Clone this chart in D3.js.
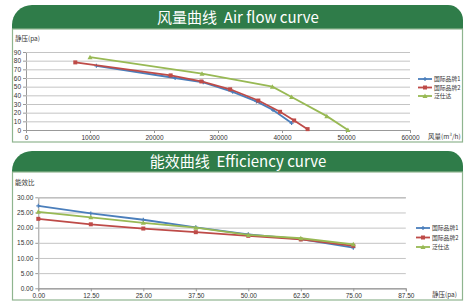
<!DOCTYPE html>
<html>
<head>
<meta charset="utf-8">
<script src="https://cdn.jsdelivr.net/npm/d3@7"></script>
<style>
  body { margin: 0; background: #fff; }
  svg { display: block; font-family: "Liberation Sans", "Noto Sans CJK SC", sans-serif; }
  .tick text { font-size: 6.5px; fill: #333; }
  .cn { font-family: "Noto Sans CJK SC", sans-serif; }
  .title { white-space: pre; }
</style>
</head>
<body>
<svg width="465" height="302"></svg>
<script>
// chart 1: air flow
const seriesNames = ['国际品牌1', '国际品牌2', '泛仕达'];
const colors = ['#4a7ebb', '#be4b48', '#98b954'];
const flowBrand1 = [[11000, 74], [23300, 60], [27700, 55], [32300, 44], [36000, 33], [38600, 23], [41500, 8]];
const flowBrand2 = [[7700, 78], [22600, 63], [27400, 56], [31900, 47], [36300, 34], [39700, 21], [41900, 11], [44000, 1]];
const flowFantech = [[10000, 84], [27500, 65], [38500, 50], [41500, 38], [47000, 16], [50300, 0]];
const flowXTicks = [0, 10000, 20000, 30000, 40000, 50000, 60000];
const flowYTicks = [0, 10, 20, 30, 40, 50, 60, 70, 80, 90];

// chart 2: efficiency
const effX = [0, 12.5, 25, 37.5, 50, 62.5, 75];
const effBrand1 = [27.2, 24.7, 22.6, 20.1, 17.8, 16.2, 13.4];
const effBrand2 = [22.9, 21.1, 19.7, 18.5, 17.3, 16.1, 14.0];
const effFantech = [25.2, 23.4, 21.6, 20.0, 17.6, 16.5, 14.5];
const effXTicks = [0, 12.5, 25, 37.5, 50, 62.5, 75, 87.5];
const effYTicks = [0, 5, 10, 15, 20, 25, 30];

const svg = d3.select('svg');
const headGreen = '#2f7c49';
const borderGreen = '#8fb58f';
const gridColor = '#c4c4c4';

function header(y0, y1, title) {
  const x0 = 12, x1 = 463, rl = 20, rr = 15;
  const p = d3.path();
  p.moveTo(x0, y1);
  p.lineTo(x0, y0 + rl);
  p.arcTo(x0, y0, x0 + rl, y0, rl);
  p.lineTo(x1 - rr, y0);
  p.arcTo(x1, y0, x1, y0 + rr, rr);
  p.lineTo(x1, y1);
  p.closePath();
  svg.append('path').attr('d', p.toString()).attr('fill', headGreen);
  svg.append('text')
    .attr('class', 'cn title')
    .attr('x', 238).attr('y', (y0 + y1) / 2 + 5.5)
    .attr('text-anchor', 'middle')
    .attr('fill', '#fff')
    .style('font-size', '15px')
    .text(title);
}

function panel(y0, y1) {
  svg.append('rect')
    .attr('x', 12.5).attr('y', y0)
    .attr('width', 450).attr('height', y1 - y0)
    .attr('fill', 'none')
    .attr('stroke', borderGreen)
    .attr('stroke-width', 1.2);
}

const markers = [
  (g, x, y, c) => g.append('path').attr('d', `M${x - 2},${y}h4M${x},${y - 2}v4`).attr('stroke', c).attr('stroke-width', 1.2),
  (g, x, y, c) => g.append('rect').attr('x', x - 2).attr('y', y - 2).attr('width', 4).attr('height', 4).attr('fill', c),
  (g, x, y, c) => g.append('path').attr('d', `M${x},${y - 2.5}L${x + 2.5},${y + 2}L${x - 2.5},${y + 2}Z`).attr('fill', c)
];

function chart(opt) {
  const x = d3.scaleLinear().domain(opt.xDomain).range(opt.xRange);
  const y = d3.scaleLinear().domain(opt.yDomain).range(opt.yRange);
  const g = svg.append('g');

  // grid + y axis
  const yAxisG = g.append('g')
    .attr('transform', `translate(${opt.xRange[0]},0)`)
    .call(d3.axisLeft(y).tickValues(opt.yTicks).tickFormat(opt.yFormat)
      .tickSize(-(opt.xRange[1] - opt.xRange[0])).tickPadding(5));
  yAxisG.select('.domain').attr('stroke', '#999');
  yAxisG.selectAll('.tick line').attr('stroke', gridColor);
  yAxisG.selectAll('.tick').append('line')
    .attr('x1', -3).attr('x2', 0).attr('stroke', '#999');

  const xAxisG = g.append('g')
    .attr('transform', `translate(0,${opt.yRange[0]})`)
    .call(d3.axisBottom(x).tickValues(opt.xTicks).tickFormat(opt.xFormat).tickSize(3).tickPadding(2));
  xAxisG.select('.domain').attr('stroke', '#999');
  xAxisG.selectAll('.tick line').attr('stroke', '#999');

  const line = d3.line().x(d => x(d[0])).y(d => y(d[1]));
  opt.series.forEach((data, i) => {
    g.append('path')
      .attr('fill', 'none')
      .attr('stroke', colors[i])
      .attr('stroke-width', 1.8)
      .attr('d', line(data));
    data.forEach(d => markers[i](g, x(d[0]), y(d[1]), colors[i]));
  });

  // legend
  seriesNames.forEach((name, i) => {
    const ly = opt.legendY[i];
    const lx = opt.legendX;
    g.append('line')
      .attr('x1', lx).attr('x2', lx + 14)
      .attr('y1', ly).attr('y2', ly)
      .attr('stroke', colors[i]).attr('stroke-width', 1.8);
    markers[i](g, lx + 7, ly, colors[i]);
    g.append('text')
      .attr('class', 'cn')
      .attr('x', lx + 16).attr('y', ly + 2)
      .style('font-size', '5.8px')
      .attr('fill', '#333')
      .text(name);
  });

  g.append('text').attr('class', 'cn')
    .attr('x', 15).attr('y', opt.yTitleY)
    .style('font-size', '6.5px').attr('fill', '#333')
    .text(opt.yTitle);
  g.append('text').attr('class', 'cn')
    .attr('x', opt.xTitleX).attr('y', opt.xTitleY)
    .style('font-size', '6.5px').attr('fill', '#333')
    .text(opt.xTitle);
}

header(5, 29, '风量曲线  Air flow curve');
panel(29, 142);
chart({
  xDomain: [0, 60000], xRange: [26, 410],
  yDomain: [0, 90], yRange: [130, 52],
  xTicks: flowXTicks, yTicks: flowYTicks,
  xFormat: d3.format('d'), yFormat: d3.format('d'),
  series: [flowBrand1, flowBrand2, flowFantech],
  legendX: 418, legendY: [79, 87.5, 96],
  yTitle: '静压(pa)', yTitleY: 41,
  xTitle: '风量(m³/h)', xTitleX: 428, xTitleY: 139
});

header(151, 172, '能效曲线  Efficiency curve');
panel(172, 300);
chart({
  xDomain: [0, 87.5], xRange: [38.3, 405.8],
  yDomain: [0, 30], yRange: [288.3, 197.3],
  xTicks: effXTicks, yTicks: effYTicks,
  xFormat: d3.format('.2f'), yFormat: d3.format('.2f'),
  series: [effX.map((v, i) => [v, effBrand1[i]]), effX.map((v, i) => [v, effBrand2[i]]), effX.map((v, i) => [v, effFantech[i]])],
  legendX: 416, legendY: [228, 237.5, 247],
  yTitle: '能效比', yTitleY: 185,
  xTitle: '静压(pa)', xTitleX: 432, xTitleY: 297
});
</script>
</body>
</html>
